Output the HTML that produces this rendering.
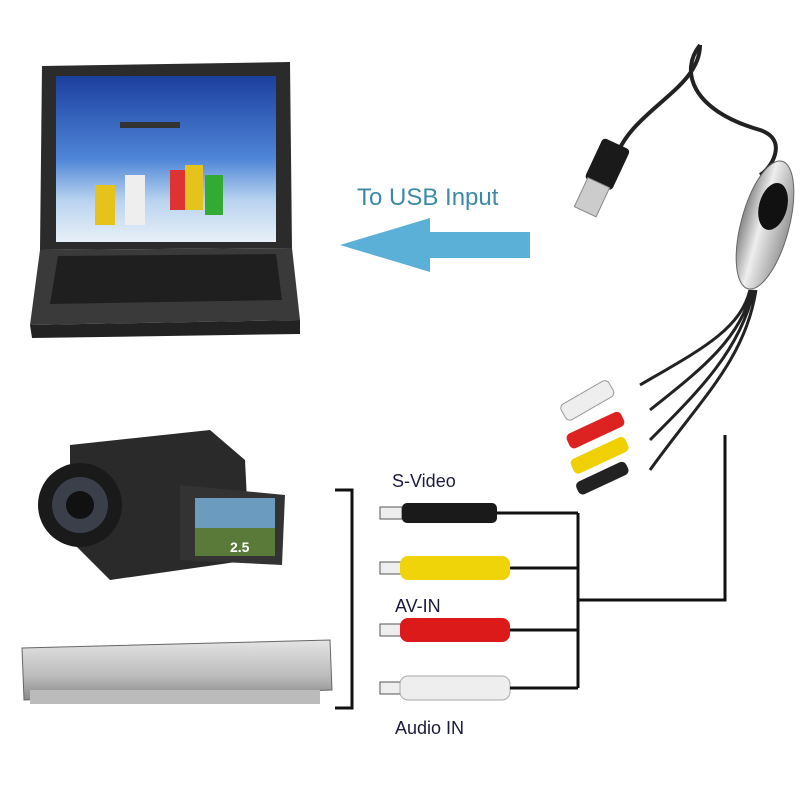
<!DOCTYPE html>
<html><head><meta charset="utf-8"><style>
html,body{margin:0;padding:0;background:#fff;}
svg{display:block;}
text{font-family:"Liberation Sans",sans-serif;}
</style></head><body>
<svg width="800" height="800" viewBox="0 0 800 800" xmlns="http://www.w3.org/2000/svg">
<defs>
<linearGradient id="scr" x1="0" y1="0" x2="0" y2="1">
<stop offset="0" stop-color="#1c3f9e"/><stop offset="0.5" stop-color="#4f86d8"/><stop offset="0.75" stop-color="#b9d3ef"/><stop offset="1" stop-color="#e8f0f8"/></linearGradient>
<linearGradient id="silver" x1="0" y1="0" x2="1" y2="0">
<stop offset="0" stop-color="#888"/><stop offset="0.4" stop-color="#eee"/><stop offset="1" stop-color="#999"/></linearGradient>
<linearGradient id="dvd" x1="0" y1="0" x2="0" y2="1">
<stop offset="0" stop-color="#e4e4e4"/><stop offset="0.6" stop-color="#bbb"/><stop offset="1" stop-color="#888"/></linearGradient>
</defs>
<!-- laptop -->
<path d="M42,66 L290,62 L292,248 L40,250 Z" fill="#2b2b2b"/>
<rect x="56" y="76" width="220" height="166" fill="url(#scr)"/>
<g fill="#e6c21d"><rect x="95" y="185" width="20" height="40"/><rect x="185" y="165" width="18" height="45"/></g>
<g fill="#d33"><rect x="170" y="170" width="15" height="40"/></g>
<g fill="#eee"><rect x="125" y="175" width="20" height="50"/><rect x="205" y="175" width="18" height="40" fill="#3a3"/></g>
<rect x="120" y="122" width="60" height="6" fill="#333"/>
<path d="M40,250 L292,248 L300,320 L30,325 Z" fill="#3a3a3a"/>
<path d="M58,256 L276,254 L282,300 L50,304 Z" fill="#1f1f1f"/>
<path d="M30,325 L300,320 L300,334 L32,338 Z" fill="#222"/>
<!-- arrow -->
<path d="M530,232 L430,232 L430,218 L340,245 L430,272 L430,258 L530,258 Z" fill="#5ab0d6"/>
<text x="357" y="205" font-size="24" fill="#3d8aa8">To USB Input</text>
<!-- usb cable -->
<path d="M700,45 C680,70 690,110 760,130 C790,140 770,170 760,175" stroke="#222" stroke-width="4" fill="none"/>
<path d="M700,45 C700,90 630,110 615,160" stroke="#222" stroke-width="4" fill="none"/>
<g transform="rotate(25 600 180)"><rect x="585" y="140" width="30" height="45" rx="4" fill="#1a1a1a"/><rect x="588" y="183" width="24" height="32" fill="#ccc" stroke="#888"/></g>
<g transform="rotate(15 765 225)"><ellipse cx="765" cy="225" rx="24" ry="66" fill="url(#silver)" stroke="#666"/><ellipse cx="768" cy="205" rx="14" ry="24" fill="#111"/></g>
<path d="M750,290 C740,330 700,350 640,385 M752,290 C740,340 700,370 650,410 M754,290 C740,350 700,390 650,440 M756,290 C745,360 700,400 650,470" stroke="#222" stroke-width="3" fill="none"/>
<g transform="rotate(-30 590 400)"><rect x="560" y="390" width="55" height="18" rx="5" fill="#eee" stroke="#999"/></g>
<g transform="rotate(-25 600 428)"><rect x="565" y="420" width="60" height="16" rx="5" fill="#d22"/></g>
<g transform="rotate(-25 605 455)"><rect x="570" y="445" width="60" height="16" rx="5" fill="#f0d000"/></g>
<g transform="rotate(-25 605 478)"><rect x="575" y="470" width="55" height="14" rx="5" fill="#222"/></g>
<!-- camcorder -->
<path d="M70,445 L210,430 L245,460 L250,560 L110,580 L70,540 Z" fill="#2a2a2a"/>
<circle cx="80" cy="505" r="42" fill="#1a1a1a"/><circle cx="80" cy="505" r="28" fill="#3a3f4a"/><circle cx="80" cy="505" r="14" fill="#111"/>
<path d="M180,485 L285,495 L282,565 L180,560 Z" fill="#333"/>
<rect x="195" y="498" width="80" height="58" fill="#6c9bc0"/><rect x="195" y="528" width="80" height="28" fill="#5a7a3a"/>
<text x="230" y="552" font-size="14" fill="#fff" font-weight="bold">2.5</text>
<!-- dvd -->
<path d="M22,648 L330,640 L332,690 L24,700 Z" fill="url(#dvd)" stroke="#666"/>
<rect x="30" y="690" width="290" height="14" fill="#bbb"/>
<!-- bracket -->
<path d="M335,490 L352,490 L352,708 L335,708" stroke="#111" stroke-width="3" fill="none"/>
<!-- connectors -->
<rect x="380" y="507" width="22" height="12" fill="#eee" stroke="#555"/><rect x="402" y="503" width="95" height="20" rx="5" fill="#1a1a1a"/>
<rect x="380" y="562" width="22" height="12" fill="#eee" stroke="#555"/><rect x="400" y="556" width="110" height="24" rx="8" fill="#f0d40a"/>
<rect x="380" y="624" width="22" height="12" fill="#eee" stroke="#555"/><rect x="400" y="618" width="110" height="24" rx="8" fill="#dd1a1a"/>
<rect x="380" y="682" width="22" height="12" fill="#eee" stroke="#555"/><rect x="400" y="676" width="110" height="24" rx="8" fill="#eee" stroke="#aaa"/>
<text x="392" y="487" font-size="18" fill="#1a1a40">S-Video</text>
<text x="395" y="612" font-size="18" fill="#1a1a40">AV-IN</text>
<text x="395" y="734" font-size="18" fill="#1a1a40">Audio IN</text>
<path d="M497,513 L578,513 M510,568 L578,568 M510,630 L578,630 M510,688 L578,688 M578,513 L578,688 M578,600 L725,600 L725,435" stroke="#111" stroke-width="3" fill="none"/>
</svg>
</body></html>
